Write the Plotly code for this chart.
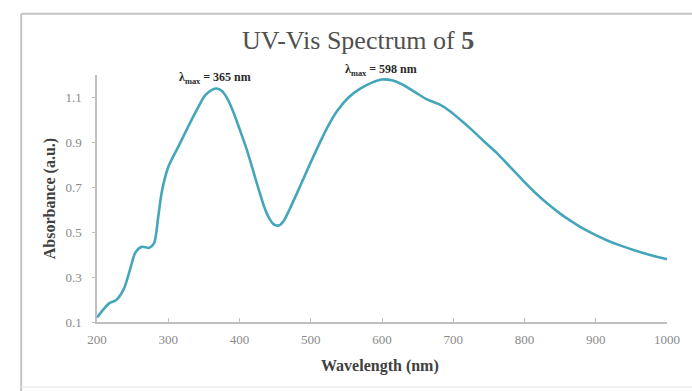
import plotly.graph_objects as go

# UV-Vis absorbance spectrum of compound 5
wavelength_nm = [200, 210, 218, 227, 238, 246, 254, 263, 273, 280, 286, 291, 300, 314,
                 328, 341, 352, 362, 368, 375, 382, 392, 400, 410, 419, 427, 435, 442,
                 448, 455, 462, 470, 483, 497, 510, 523, 537, 553, 570, 585, 600, 615,
                 633, 648, 661, 672, 680, 695, 712, 728, 743, 762, 780, 798, 817, 833,
                 849, 865, 880, 898, 917, 935, 954, 975, 993, 1000]
absorbance = [0.12, 0.16, 0.185, 0.198, 0.25, 0.33, 0.41, 0.435, 0.43, 0.45, 0.57, 0.68,
              0.79, 0.88, 0.97, 1.05, 1.11, 1.135, 1.14, 1.13, 1.10, 1.03, 0.96, 0.87,
              0.775, 0.69, 0.61, 0.56, 0.535, 0.53, 0.55, 0.6, 0.69, 0.79, 0.88, 0.965,
              1.04, 1.10, 1.14, 1.165, 1.18, 1.175, 1.15, 1.12, 1.095, 1.08, 1.07, 1.04,
              0.995, 0.95, 0.905, 0.85, 0.79, 0.73, 0.67, 0.625, 0.585, 0.55, 0.52, 0.49,
              0.462, 0.44, 0.42, 0.40, 0.385, 0.38]

x_ticks = [200, 300, 400, 500, 600, 700, 800, 900, 1000]
y_ticks = [0.1, 0.3, 0.5, 0.7, 0.9, 1.1]
peak_labels = ["λ<sub>max</sub> = 365 nm", "λ<sub>max</sub> = 598 nm"]
peak_positions = [365, 598]

SERIF = "Liberation Serif, Times New Roman, serif"
TICK_GRAY = "#8a8a8a"
AXIS_GRAY = "#bfbfbf"

fig = go.Figure()
fig.add_trace(go.Scatter(
    x=wavelength_nm, y=absorbance, mode="lines",
    line=dict(color="#45a5ba", width=2.6, shape="spline", smoothing=0.8),
    hoverinfo="skip", showlegend=False,
))

fig.update_layout(
    width=692, height=391,
    margin=dict(l=97, r=16, t=75, b=69),
    paper_bgcolor="white", plot_bgcolor="white",
    showlegend=False,
    xaxis=dict(
        range=[200, 1000], tickvals=x_ticks, ticktext=[str(v) for v in x_ticks],
        showgrid=False, zeroline=False, showline=True, linecolor=AXIS_GRAY, linewidth=1.5,
        ticks="inside", ticklen=4, tickcolor=AXIS_GRAY,
        tickfont=dict(family=SERIF, size=13, color=TICK_GRAY), ticklabelstandoff=5,
    ),
    yaxis=dict(
        range=[0.1, 1.2], tickvals=y_ticks, ticktext=[f"{v:.1f}" for v in y_ticks],
        showgrid=False, zeroline=False, showline=True, linecolor=AXIS_GRAY, linewidth=1.5,
        ticks="outside", ticklen=3, tickcolor=AXIS_GRAY,
        tickfont=dict(family=SERIF, size=13, color=TICK_GRAY), ticklabelstandoff=8,
    ),
)

# chart frame
frame = dict(color="#c4c4c4", width=2)
fig.add_shape(type="line", xref="paper", yref="paper", x0=-0.133, x1=1.05, y0=1.248, y1=1.248, line=frame)
fig.add_shape(type="line", xref="paper", yref="paper", x0=-0.133, x1=-0.133, y0=1.248, y1=-0.4, line=frame)
fig.add_shape(type="line", xref="paper", yref="paper", x0=-0.133, x1=1.05, y0=-0.263, y1=-0.263,
              line=dict(color="#ececec", width=1.5))

# title
fig.add_annotation(text="UV-Vis Spectrum of <b>5</b>", xref="paper", yref="paper",
                   x=0.458, y=1.14, showarrow=False, xanchor="center", yanchor="middle",
                   font=dict(family=SERIF, size=26, color="#505050"))

# axis titles
fig.add_annotation(text="<b>Wavelength (nm)</b>", xref="paper", yref="paper",
                   x=0.497, y=-0.178, showarrow=False, xanchor="center", yanchor="middle",
                   font=dict(family=SERIF, size=16, color="#404040"))
fig.add_annotation(text="<b>Absorbance (a.u.)</b>", xref="paper", yref="paper",
                   x=-0.083, y=0.50, showarrow=False, xanchor="center", yanchor="middle",
                   textangle=-90, font=dict(family=SERIF, size=16, color="#404040"))

# absorption maxima labels
label_heights = [0.986, 1.02]
for text, pos, h in zip(peak_labels, peak_positions, label_heights):
    fig.add_annotation(text=f"<b>{text}</b>", x=pos, y=h, xref="x", yref="paper",
                       showarrow=False, xanchor="center", yanchor="middle",
                       font=dict(family=SERIF, size=12, color="#2a2a2a"))

fig.write_html("out.html")
